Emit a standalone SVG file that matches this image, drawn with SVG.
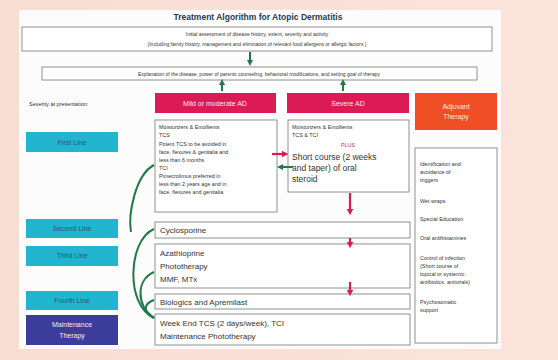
<svg xmlns="http://www.w3.org/2000/svg" width="558" height="360" viewBox="0 0 558 360">
<defs>
<style>
text{font-family:"Liberation Sans",Arial,sans-serif;fill:#333}
.t{font-size:5px}
.s{font-size:5.4px}
.m{font-size:8px}
.w{fill:#fde9e6;font-size:7px}
.box{fill:#fff;stroke:#777;stroke-width:0.8}
.red{fill:#dc1a55}
.teal{fill:#22b5cf}
.g{stroke:#1f7a48;stroke-width:2;fill:none}
.r{stroke:#dc1a55;stroke-width:2.2;fill:none}
</style>
<marker id="ag" viewBox="0 0 6 6" refX="3" refY="3" markerWidth="3" markerHeight="3" orient="auto"><path d="M0,0L6,3L0,6z" fill="#1f7a48"/></marker>
<marker id="ar" viewBox="0 0 6 6" refX="3" refY="3" markerWidth="3" markerHeight="3" orient="auto"><path d="M0,0L6,3L0,6z" fill="#dc1a55"/></marker>
<linearGradient id="bg" x1="0" y1="0" x2="1" y2="0"><stop offset="0" stop-color="#f8ddd2"/><stop offset="1" stop-color="#fbe3dc"/></linearGradient>
</defs>
<rect width="558" height="360" fill="url(#bg)"/>
<rect x="19" y="10" width="482" height="339" fill="#fcfcfc"/>
<g id="title"><text x="258" y="20" text-anchor="middle" style="font-size:8.5px;font-weight:bold;fill:#2a3a4a">Treatment Algorithm for Atopic Dermatitis</text></g>
<g id="assess"><rect class="box" x="22" y="27" width="470" height="24"/>
<text class="t" x="257" y="36" text-anchor="middle">Initial assessment of disease history, extent, severity and activity</text>
<text class="t" x="257" y="46" text-anchor="middle">(Including family history, management and elimination of relevant food allergens or allergic factors )</text></g>
<g id="explain"><rect class="box" x="42" y="67" width="435" height="13"/>
<text class="t" x="259" y="76" text-anchor="middle">Explanation of the disease, power of parents counseling, behavioral modifications, and setting goal of therapy</text></g>
<text class="t" x="29" y="106" style="font-size:5.5px">Severity at presentation:</text>
<g id="mild"><rect class="red" x="155" y="93" width="121" height="20"/><text class="w" x="215" y="106" text-anchor="middle">Mild or moderate AD</text></g>
<g id="severe"><rect class="red" x="287" y="93" width="122" height="20"/><text class="w" x="348" y="106" text-anchor="middle">Severe AD</text></g>
<g id="adjuvant"><rect x="415" y="93" width="82" height="37" fill="#ef4e25"/><text class="w" x="456" y="109" text-anchor="middle">Adjuvant</text><text class="w" x="456" y="119" text-anchor="middle">Therapy</text></g>
<g id="first"><rect class="teal" x="26" y="132" width="92" height="20"/><text class="w" x="72" y="145" text-anchor="middle" style="fill:#1d5a70">First Line</text></g>
<g id="second"><rect class="teal" x="26" y="219" width="92" height="19"/><text class="w" x="72" y="231" text-anchor="middle" style="fill:#1d5a70">Second Line</text></g>
<g id="third"><rect class="teal" x="26" y="246" width="92" height="20"/><text class="w" x="72" y="258" text-anchor="middle" style="fill:#1d5a70">Third Line</text></g>
<g id="fourth"><rect class="teal" x="26" y="291" width="92" height="19"/><text class="w" x="72" y="303" text-anchor="middle" style="fill:#1d5a70">Fourth Line</text></g>
<g id="maint"><rect x="26" y="315" width="92" height="30" fill="#3b3c9c"/><text class="w" x="72" y="327" text-anchor="middle">Maintenance</text><text class="w" x="72" y="338" text-anchor="middle">Therapy</text></g>
<g id="mildbox"><rect class="box" x="155" y="120" width="122" height="92"/>
<text class="s" x="159" y="129">Moisturizers &amp; Emollients</text>
<text class="s" x="159" y="137">TCS</text>
<text class="s" x="159" y="146">Potent TCS to be avoided in</text>
<text class="s" x="159" y="154">face, flexures &amp; genitalia and</text>
<text class="s" x="159" y="162">less than 6 months</text>
<text class="s" x="159" y="170">TCI</text>
<text class="s" x="159" y="178">Pimecrolimus preferred in</text>
<text class="s" x="159" y="186">less than 2 years age and in</text>
<text class="s" x="159" y="194">face, flexures and genitalia</text></g>
<g id="severebox"><rect class="box" x="288" y="120" width="121" height="72"/>
<text class="s" x="292" y="129">Moisturizers &amp; Emollients</text>
<text class="s" x="292" y="137">TCS &amp; TCI</text>
<text class="s" x="348" y="147" text-anchor="middle" style="fill:#c0305a">PLUS</text>
<text x="292" y="160" style="font-size:8.5px">Short course (2 weeks</text>
<text x="292" y="171" style="font-size:8.5px">and taper) of oral</text>
<text x="292" y="182" style="font-size:8.5px">steroid</text></g>
<g id="cyclo"><rect class="box" x="155" y="222" width="255" height="16"/><text class="m" x="160" y="233">Cyclosporine</text></g>
<g id="aza"><rect class="box" x="155" y="244" width="255" height="44"/>
<text class="m" x="160" y="256">Azathioprine</text><text class="m" x="160" y="269">Phototherapy</text><text class="m" x="160" y="282">MMF, MTx</text></g>
<g id="bio"><rect class="box" x="155" y="294" width="255" height="15"/><text class="m" x="160" y="305">Biologics and Apremilast</text></g>
<g id="weekend"><rect class="box" x="155" y="314" width="255" height="31"/>
<text class="m" x="160" y="326">Week End TCS (2 days/week), TCI</text><text class="m" x="160" y="339">Maintenance Phototherapy</text></g>
<g id="adjlist"><rect class="box" x="415" y="148" width="82" height="195"/>
<text class="s" x="420" y="166">Identification and</text><text class="s" x="420" y="174">avoidance of</text><text class="s" x="420" y="182">triggers</text>
<text class="s" x="420" y="203">Wet wraps</text>
<text class="s" x="420" y="221">Special Education</text>
<text class="s" x="420" y="240">Oral antihistamines</text>
<text class="s" x="420" y="260">Control of infection</text><text class="s" x="420" y="268">(Short course of</text><text class="s" x="420" y="276">topical or systemic</text><text class="s" x="420" y="284">antibiotics, antivirals)</text>
<text class="s" x="420" y="304">Psychosomatic</text><text class="s" x="420" y="312">support</text></g>
<g id="connectors">
<line class="g" x1="250" y1="52" x2="250" y2="63" marker-end="url(#ag)"/>
<line class="g" x1="222" y1="91" x2="222" y2="82" marker-end="url(#ag)"/>
<line class="g" x1="343" y1="91" x2="343" y2="82" marker-end="url(#ag)"/>
<line class="r" x1="272" y1="154" x2="285" y2="154" marker-end="url(#ar)"/>
<line class="g" x1="293" y1="167" x2="280" y2="167" marker-end="url(#ag)"/>
<line class="r" x1="350" y1="193" x2="350" y2="212" marker-end="url(#ar)"/>
<line class="r" x1="350" y1="238" x2="350" y2="245" marker-end="url(#ar)"/>
<line class="r" x1="350" y1="282" x2="350" y2="293" marker-end="url(#ar)"/>
<path class="g" d="M154,165 C135,175 128,215 131,232" stroke-width="1.2"/>
<path class="g" d="M154,229 C128,240 125,305 154,318"/>
<path class="g" d="M154,272 C136,280 136,305 154,318" stroke-width="1.5"/>
<path class="g" d="M154,300 C143,304 143,312 154,318" stroke-width="1.3"/>
</g>
</svg>
